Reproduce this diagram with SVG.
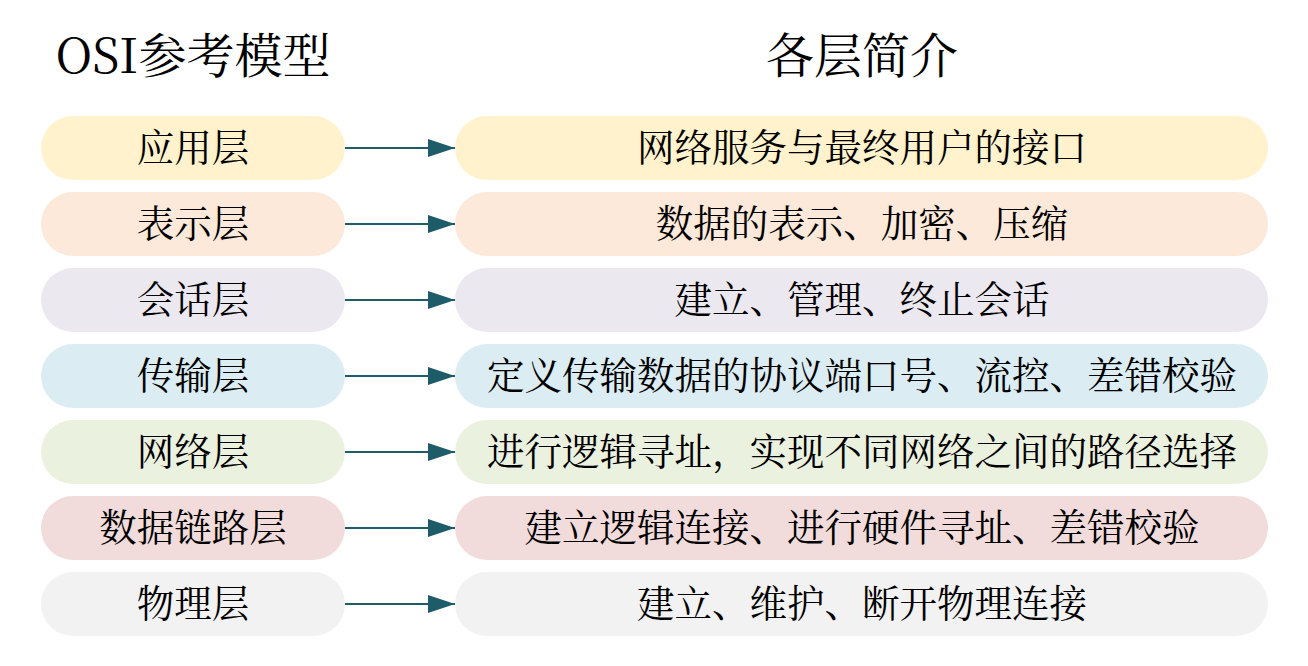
<svg xmlns="http://www.w3.org/2000/svg" width="1308" height="666" viewBox="0 0 1308 666">
<style>
text{font-family:"Noto Serif CJK SC","Liberation Serif","Noto Sans CJK SC",serif;fill:#000;text-anchor:middle;dominant-baseline:central}
.t{font-size:48px}
.l{font-size:37.5px}
.c{stroke:#1f5c69;stroke-width:2;fill:none}
</style>
<defs>
<marker id="ah" markerUnits="userSpaceOnUse" markerWidth="28" markerHeight="20" refX="27" refY="9" orient="auto" viewBox="0 0 28 18">
<path d="M0,0L27,9L0,18Z" fill="#1f5c69"/>
</marker>
</defs>
<rect width="1308" height="666" fill="#fff"/>
<g id="titles">
<text class="t" x="193" y="52">OSI参考模型</text>
<text class="t" x="862" y="52">各层简介</text>
</g>
<g id="layer1"><rect x="41" y="116" width="304" height="64" rx="32" fill="#fff2cc"/><text class="l" x="193" y="145">应用层</text></g>
<g id="layer2"><rect x="41" y="192" width="304" height="64" rx="32" fill="#fce9da"/><text class="l" x="193" y="221">表示层</text></g>
<g id="layer3"><rect x="41" y="268" width="304" height="64" rx="32" fill="#ebe8f0"/><text class="l" x="193" y="297">会话层</text></g>
<g id="layer4"><rect x="41" y="344" width="304" height="64" rx="32" fill="#dbedf3"/><text class="l" x="193" y="373">传输层</text></g>
<g id="layer5"><rect x="41" y="420" width="304" height="64" rx="32" fill="#ebf1df"/><text class="l" x="193" y="449">网络层</text></g>
<g id="layer6"><rect x="41" y="496" width="304" height="64" rx="32" fill="#f2dcdb"/><text class="l" x="193" y="525">数据链路层</text></g>
<g id="layer7"><rect x="41" y="572" width="304" height="64" rx="32" fill="#f2f2f2"/><text class="l" x="193" y="601">物理层</text></g>
<g id="desc1"><rect x="455" y="116" width="813" height="64" rx="32" fill="#fff2cc"/><text class="l" x="862" y="145">网络服务与最终用户的接口</text></g>
<g id="desc2"><rect x="455" y="192" width="813" height="64" rx="32" fill="#fce9da"/><text class="l" x="862" y="221">数据的表示、加密、压缩</text></g>
<g id="desc3"><rect x="455" y="268" width="813" height="64" rx="32" fill="#ebe8f0"/><text class="l" x="862" y="297">建立、管理、终止会话</text></g>
<g id="desc4"><rect x="455" y="344" width="813" height="64" rx="32" fill="#dbedf3"/><text class="l" x="862" y="373">定义传输数据的协议端口号、流控、差错校验</text></g>
<g id="desc5"><rect x="455" y="420" width="813" height="64" rx="32" fill="#ebf1df"/><text class="l" x="862" y="449">进行逻辑寻址，实现不同网络之间的路径选择</text></g>
<g id="desc6"><rect x="455" y="496" width="813" height="64" rx="32" fill="#f2dcdb"/><text class="l" x="862" y="525">建立逻辑连接、进行硬件寻址、差错校验</text></g>
<g id="desc7"><rect x="455" y="572" width="813" height="64" rx="32" fill="#f2f2f2"/><text class="l" x="862" y="601">建立、维护、断开物理连接</text></g>
<g id="connectors">
<line class="c" x1="345" y1="148" x2="455" y2="148" marker-end="url(#ah)"/>
<line class="c" x1="345" y1="224" x2="455" y2="224" marker-end="url(#ah)"/>
<line class="c" x1="345" y1="300" x2="455" y2="300" marker-end="url(#ah)"/>
<line class="c" x1="345" y1="376" x2="455" y2="376" marker-end="url(#ah)"/>
<line class="c" x1="345" y1="452" x2="455" y2="452" marker-end="url(#ah)"/>
<line class="c" x1="345" y1="528" x2="455" y2="528" marker-end="url(#ah)"/>
<line class="c" x1="345" y1="604" x2="455" y2="604" marker-end="url(#ah)"/>
</g>
</svg>
